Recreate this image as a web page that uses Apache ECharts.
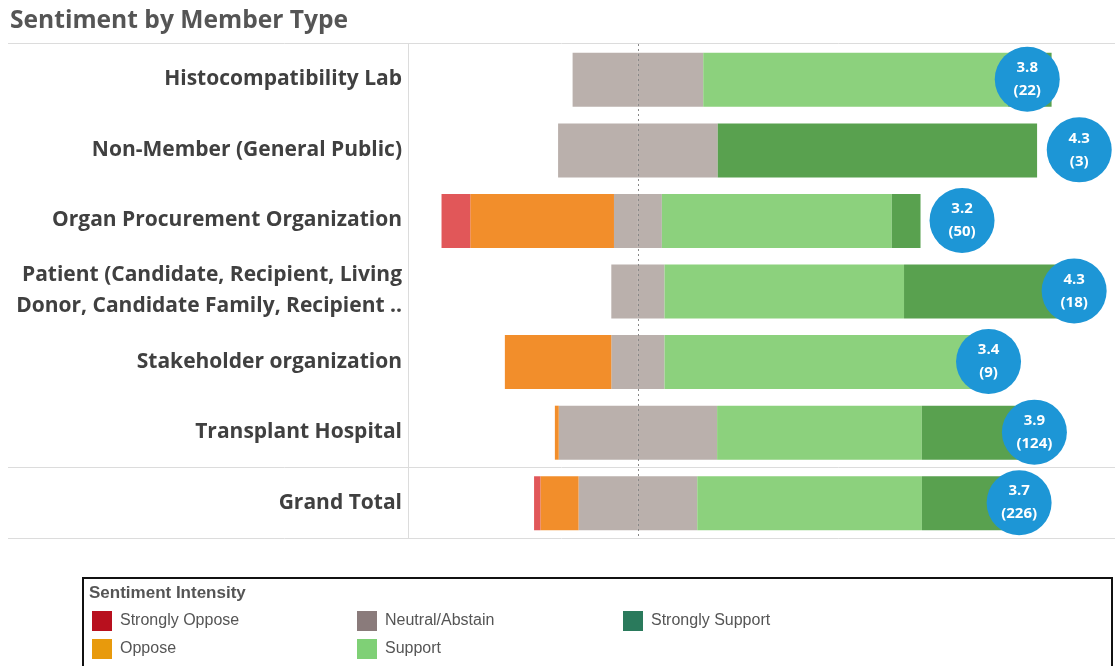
<!DOCTYPE html>
<html><head><meta charset="utf-8">
<script src="https://cdn.jsdelivr.net/npm/echarts@6/dist/echarts.min.js"></script>
<style>html,body{margin:0;padding:0;background:#fff}#c{width:1115px;height:666px}</style>
</head><body><div id="c"></div>
<script>
const categories = ['Histocompatibility Lab','Non-Member (General Public)','Organ Procurement Organization','Patient (Candidate, Recipient, Living\nDonor, Candidate Family, Recipient ..','Stakeholder organization','Transplant Hospital','Grand Total'];
const stronglyOppose = [0,0,3,0,0,0,3];
const oppose = [0,0,15,0,2,1,18];
const neutral = [6,1,5,2,1,41,56];
const support = [14,0,24,9,6,53,106];
const stronglySupport = [2,2,3,7,0,29,43];
const responses = [22,3,50,18,9,124,226];
const avgScore = [3.82,4.33,3.18,4.28,3.44,3.89,3.74];

const barColors = {so:'#e15759', o:'#f28e2b', n:'#bab0ac', s:'#8cd17d', ss:'#59a14f'};
const legendColors = {so:'#b8101e', o:'#e89a0c', n:'#8a7b7b', s:'#7fd076', ss:'#2a7a5c'};

const pct = (arr, sign, half) => arr.map((v, i) => sign * v / responses[i] * 100 * (half ? 0.5 : 1));
const FONT = 'Open Sans';
const barW = 54;

function bar(name, data, color) {
  return {name, type:'bar', stack:'s', data, barWidth:barW, itemStyle:{color}, z:2, emphasis:{disabled:true}, silent:true};
}
function legendCol(left, items) {
  return {orient:'vertical', left, top:611, padding:0, itemWidth:20, itemHeight:20, itemGap:8, icon:'rect', selectedMode:false,
    textStyle:{fontFamily:'Liberation Sans', fontSize:16, color:'#555', padding:[0,0,0,3]},
    data:items.map(([name,color])=>({name, itemStyle:{color}}))};
}

const chart = echarts.init(document.getElementById('c'), null, {renderer:'canvas'});
chart.setOption({
  animation:false,
  title:{text:'Sentiment by Member Type', left:5, top:3, textStyle:{fontFamily:FONT, fontWeight:'bold', fontSize:24.6, color:'#555'}},
  grid:{left:408, right:0, top:44, height:494},
  xAxis:[
    {type:'value', min:-48, max:99.6, show:false},
    {type:'value', min:-2.257, max:4.681, show:false}
  ],
  yAxis:{type:'category', data:categories, inverse:true,
    axisLine:{show:false}, axisTick:{show:false}, splitLine:{show:false},
    axisLabel:{margin:6, fontFamily:FONT, fontWeight:'bold', fontSize:21, color:'#404040', lineHeight:31, align:'right'}},
  legend:[
    legendCol(92, [['Strongly Oppose',legendColors.so],['Oppose',legendColors.o]]),
    legendCol(357, [['Neutral/Abstain',legendColors.n],['Support',legendColors.s]]),
    legendCol(623, [['Strongly Support',legendColors.ss]])
  ],
  graphic:[
    {type:'line', shape:{x1:8, y1:43.5, x2:1115, y2:43.5}, style:{stroke:'#dcdcdc', lineWidth:1}, z:0},
    {type:'line', shape:{x1:8, y1:467.5, x2:1115, y2:467.5}, style:{stroke:'#dcdcdc', lineWidth:1}, z:0},
    {type:'line', shape:{x1:8, y1:538.5, x2:1115, y2:538.5}, style:{stroke:'#dcdcdc', lineWidth:1}, z:0},
    {type:'line', shape:{x1:408.5, y1:44, x2:408.5, y2:538}, style:{stroke:'#dcdcdc', lineWidth:1}, z:0},
    {type:'rect', shape:{x:83, y:578, width:1029, height:120}, style:{fill:'none', stroke:'#111', lineWidth:2}, z:0},
    {type:'text', left:89, top:585, style:{text:'Sentiment Intensity', font:'bold 17px "Liberation Sans"', fill:'#555'}}
  ],
  series:[
    {name:'center', type:'bar', data:[], z:1, silent:true,
     markLine:{silent:true, symbol:'none', label:{show:false}, lineStyle:{type:[2,3], color:'#888', width:1}, data:[{xAxis:0}]}},
    bar('Neutral/Abstain', pct(neutral,-1,true), barColors.n),
    bar('Oppose', pct(oppose,-1,false), barColors.o),
    bar('Strongly Oppose', pct(stronglyOppose,-1,false), barColors.so),
    bar('Neutral/Abstain', pct(neutral,1,true), barColors.n),
    bar('Support', pct(support,1,false), barColors.s),
    bar('Strongly Support', pct(stronglySupport,1,false), barColors.ss),
    {name:'avg', type:'scatter', xAxisIndex:1, symbolSize:65, z:5, silent:true,
     itemStyle:{color:'#1d96d6', opacity:1},
     data:avgScore.map((v,i)=>[v, categories[i]]),
     label:{show:true, position:'inside', color:'#fff', fontFamily:FONT, fontWeight:'bold', fontSize:15, lineHeight:23,
       formatter:p=>avgScore[p.dataIndex].toFixed(1)+'\n('+responses[p.dataIndex]+')'}}
  ]
});
</script></body></html>
